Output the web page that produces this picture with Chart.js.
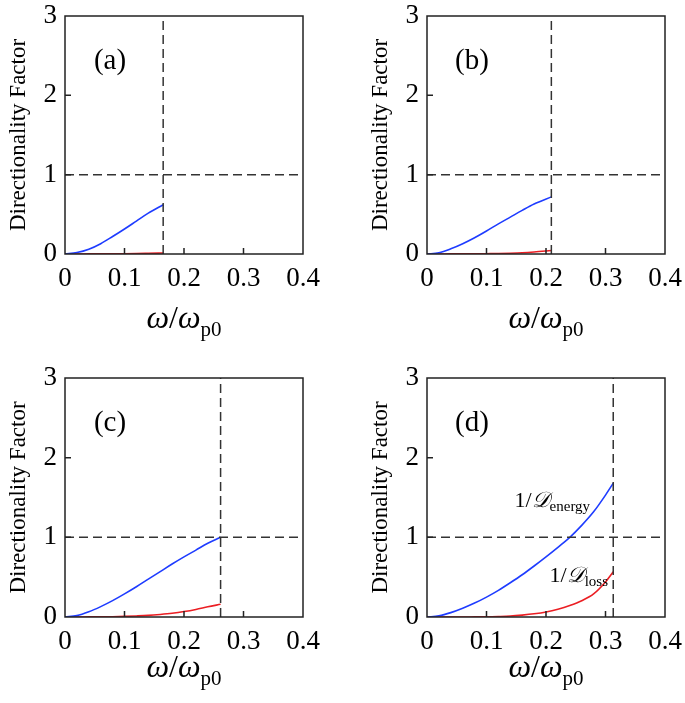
<!DOCTYPE html>
<html>
<head>
<meta charset="utf-8">
<script src="https://cdn.jsdelivr.net/npm/chart.js@4.4.1/dist/chart.umd.min.js"></script>
<style>
  body { margin: 0; background: #fff; }
  #wrap { position: relative; width: 685px; height: 703px; background: #fff; }
  canvas { position: absolute; }
</style>
</head>
<body>
<div id="wrap">
  <canvas id="pa" width="322" height="345" style="left:0;top:0"></canvas>
  <canvas id="pb" width="322" height="345" style="left:362px;top:0"></canvas>
  <canvas id="pc" width="322" height="341" style="left:0;top:362px"></canvas>
  <canvas id="pd" width="322" height="341" style="left:362px;top:362px"></canvas>
</div>
<script>
// axes
const xTickVals = [0, 0.1, 0.2, 0.3, 0.4];
const xTickLabels = ['0', '0.1', '0.2', '0.3', '0.4'];
const yTickVals = [0, 1, 2, 3];
const yTickLabels = ['0', '1', '2', '3'];
const panelNames = ['(a)', '(b)', '(c)', '(d)'];
const cutoffs = [0.165, 0.209, 0.2615, 0.313];
const unityLevel = 1;

// panel (a)
const xA = [0, 0.02, 0.04, 0.06, 0.08, 0.1, 0.12, 0.14, 0.165];
const energyA = [0, 0.018, 0.06, 0.13, 0.22, 0.315, 0.415, 0.515, 0.62];
const lossA = [0, 0, 0.001, 0.001, 0.002, 0.003, 0.005, 0.008, 0.012];
// panel (b)
const xB = [0, 0.02, 0.04, 0.06, 0.08, 0.1, 0.12, 0.14, 0.16, 0.18, 0.209];
const energyB = [0, 0.015, 0.065, 0.13, 0.205, 0.29, 0.38, 0.465, 0.55, 0.63, 0.72];
const lossB = [0, 0, 0.001, 0.001, 0.002, 0.004, 0.006, 0.01, 0.016, 0.026, 0.045];
// panel (c)
const xC = [0, 0.02, 0.04, 0.06, 0.08, 0.1, 0.12, 0.14, 0.16, 0.18, 0.2, 0.22, 0.24, 0.2615];
const energyC = [0, 0.017, 0.065, 0.13, 0.205, 0.29, 0.38, 0.475, 0.57, 0.665, 0.755, 0.84, 0.925, 1.0];
const lossC = [0, 0, 0.001, 0.002, 0.004, 0.008, 0.013, 0.02, 0.032, 0.047, 0.068, 0.095, 0.128, 0.16];
// panel (d)
const xD = [0, 0.02, 0.04, 0.06, 0.08, 0.1, 0.12, 0.14, 0.16, 0.18, 0.2, 0.22, 0.24, 0.26, 0.28, 0.3, 0.313];
const energyD = [0, 0.015, 0.055, 0.11, 0.175, 0.25, 0.335, 0.43, 0.53, 0.64, 0.755, 0.875, 1.0, 1.15, 1.32, 1.53, 1.68];
const lossD = [0, 0, 0, 0, 0.001, 0.002, 0.006, 0.012, 0.024, 0.04, 0.063, 0.098, 0.145, 0.205, 0.29, 0.44, 0.567];

const serif = '"Liberation Serif", "Times New Roman", serif';
const blue = 'rgb(30,60,255)';
const red = 'rgb(235,30,35)';

const decor = {
	id: 'decor',
	afterDatasetsDraw(chart, args, opts) {
		const ctx = chart.ctx;
		const a = chart.chartArea;
		const x = chart.scales.x, y = chart.scales.y;
		ctx.save();
		// frame
		ctx.strokeStyle = '#222';
		ctx.lineWidth = 1.5;
		ctx.strokeRect(a.left, a.top, a.right - a.left, a.bottom - a.top);
		// inward ticks
		ctx.beginPath();
		x.ticks.forEach(t => {
			if (t.value > x.min && t.value < x.max) {
				const px = x.getPixelForValue(t.value);
				ctx.moveTo(px, a.bottom);
				ctx.lineTo(px, a.bottom - 6);
			}
		});
		y.ticks.forEach(t => {
			if (t.value > y.min && t.value < y.max) {
				const py = y.getPixelForValue(t.value);
				ctx.moveTo(a.left, py);
				ctx.lineTo(a.left + 6, py);
			}
		});
		ctx.stroke();

		ctx.fillStyle = '#000';
		// panel label
		ctx.font = '29px ' + serif;
		ctx.textAlign = 'center';
		ctx.textBaseline = 'middle';
		ctx.fillText(opts.label, a.left + 45, a.top + 45);

		// y title
		ctx.save();
		ctx.translate(a.left - 46, (a.top + a.bottom) / 2);
		ctx.rotate(-Math.PI / 2);
		ctx.font = '23px ' + serif;
		ctx.fillText('Directionality Factor', 0, 0);
		ctx.restore();

		// x title  ω/ω_p0
		ctx.textAlign = 'left';
		ctx.textBaseline = 'alphabetic';
		const big = 'italic 32px ' + serif, slash = '32px ' + serif, sub = '21px ' + serif;
		ctx.font = big; const wO = ctx.measureText('ω').width;
		ctx.font = slash; const wS = ctx.measureText('/').width;
		ctx.font = sub; const wSub = ctx.measureText('p0').width;
		let cx = (a.left + a.right) / 2 - (2 * wO + wS + wSub) / 2;
		const by = a.bottom + opts.titleGap;
		ctx.font = big; ctx.fillText('ω', cx, by); cx += wO;
		ctx.font = slash; ctx.fillText('/', cx, by); cx += wS;
		ctx.font = big; ctx.fillText('ω', cx, by); cx += wO;
		ctx.font = sub; ctx.fillText('p0', cx, by + 8);

		// curve notes
		(opts.notes || []).forEach(n => {
			let px = x.getPixelForValue(n.x);
			const py = y.getPixelForValue(n.y);
			ctx.font = '22px ' + serif; ctx.fillText('1/', px, py); px += ctx.measureText('1/').width;
			ctx.font = 'italic 22px ' + serif; ctx.fillText('𝒟', px, py); px += ctx.measureText('𝒟').width;
			ctx.font = '15px ' + serif; ctx.fillText(n.sub, px, py + 4);
		});
		ctx.restore();
	}
};

function pts(xs, ys) {
	return xs.map((v, i) => ({ x: v, y: ys[i] }));
}

function noPad(s) {
	s.paddingTop = 0; s.paddingBottom = 0; s.paddingLeft = 0; s.paddingRight = 0;
}

function makePanel(id, idx, xs, energy, loss, bottomSpace, titleGap, notes) {
	const cut = cutoffs[idx];
	const dash = { borderColor: '#333', borderWidth: 1.5, borderDash: [9, 5], pointRadius: 0, fill: false };
	new Chart(document.getElementById(id), {
		type: 'line',
		data: {
			datasets: [
				Object.assign({ data: [{ x: cut, y: 0 }, { x: cut, y: 3 }] }, dash),
				Object.assign({ data: [{ x: 0, y: unityLevel }, { x: 0.4, y: unityLevel }] }, dash),
				{ data: pts(xs, energy), borderColor: blue, borderWidth: 1.6, pointRadius: 0, cubicInterpolationMode: 'monotone' },
				{ data: pts(xs, loss), borderColor: red, borderWidth: 1.6, pointRadius: 0, cubicInterpolationMode: 'monotone' }
			]
		},
		options: {
			responsive: false,
			animation: false,
			layout: { padding: { top: 16, right: 19, left: 0, bottom: 0 } },
			plugins: {
				legend: { display: false },
				tooltip: { enabled: false },
				decor: { label: panelNames[idx], titleGap: titleGap, notes: notes }
			},
			scales: {
				x: {
					type: 'linear', min: 0, max: 0.4,
					grid: { display: false, drawTicks: false },
					border: { display: false },
					afterBuildTicks: s => { s.ticks = xTickVals.map(v => ({ value: v })); },
					afterFit: s => { s.height = bottomSpace; noPad(s); },
					ticks: {
						padding: 9, color: '#000', maxRotation: 0,
						font: { family: serif, size: 27 },
						callback: (v, i) => xTickLabels[i]
					}
				},
				y: {
					min: 0, max: 3,
					grid: { display: false, drawTicks: false },
					border: { display: false },
					afterBuildTicks: s => { s.ticks = yTickVals.map(v => ({ value: v })); },
					afterFit: s => { s.width = 65; noPad(s); },
					ticks: {
						padding: 8, color: '#000',
						font: { family: serif, size: 27 },
						callback: (v, i) => yTickLabels[i]
					}
				}
			}
		},
		plugins: [decor]
	});
}

makePanel('pa', 0, xA, energyA, lossA, 91, 74, []);
makePanel('pb', 1, xB, energyB, lossB, 91, 74, []);
makePanel('pc', 2, xC, energyC, lossC, 86, 60, []);
makePanel('pd', 3, xD, energyD, lossD, 86, 60, [
	{ x: 0.147, y: 1.38, sub: 'energy' },
	{ x: 0.206, y: 0.44, sub: 'loss' }
]);
</script>
</body>
</html>
